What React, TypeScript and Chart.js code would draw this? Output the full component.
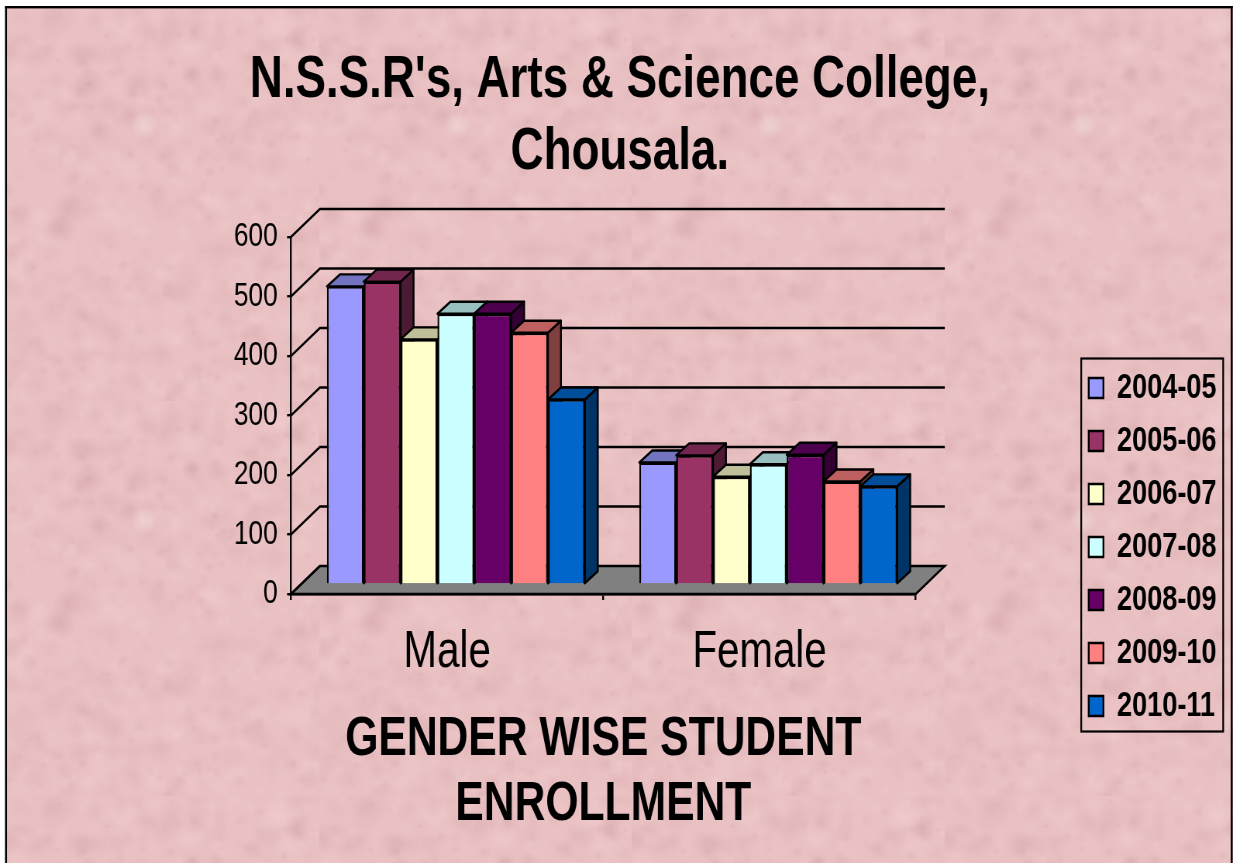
import { useEffect, useRef } from "react";
import { Chart, registerables } from "chart.js";

Chart.register(...registerables);

const categories = ["Male", "Female"];
const seriesLabels = ["2004-05", "2005-06", "2006-07", "2007-08", "2008-09", "2009-10", "2010-11"];
const v2004 = [501, 205];
const v2005 = [509, 217];
const v2006 = [412, 181];
const v2007 = [455, 202];
const v2008 = [455, 218];
const v2009 = [423, 173];
const v2010 = [311, 165];
const seriesValues = [v2004, v2005, v2006, v2007, v2008, v2009, v2010];
const seriesColors = ["#9999FF", "#993366", "#FFFFCC", "#CCFFFF", "#660066", "#FF8080", "#0066CC"];
const yTickStep = 100;
const yMax = 600;
const titleLines = ["N.S.S.R's, Arts & Science College,", "Chousala."];
const xTitleLines = ["GENDER WISE STUDENT", "ENROLLMENT"];

const PAGE_W = 1233;
const PAGE_H = 863;
const SX = 1.29;
const W = Math.round(PAGE_W * SX);
const FONT = "'Liberation Sans', Arial, sans-serif";
const LW = 2.4;

const shade = (hex: string, f: number) => {
  const n = parseInt(hex.slice(1), 16);
  const c = [(n >> 16) & 255, (n >> 8) & 255, n & 255].map((v) => Math.round(v * f));
  return `rgb(${c[0]},${c[1]},${c[2]})`;
};

function makeTile() {
  const tw = 313;
  const th = 395;
  const c = document.createElement("canvas");
  c.width = tw;
  c.height = th;
  const g = c.getContext("2d")!;
  g.fillStyle = "#EAC1C3";
  g.fillRect(0, 0, tw, th);
  let seed = 12345;
  const next = () => {
    seed = (seed * 1103515245 + 12345) & 0x7fffffff;
    return seed / 0x7fffffff;
  };
  const blob = (x: number, y: number, r: number, col: string) => {
    const gr = g.createRadialGradient(x, y, 0, x, y, r);
    gr.addColorStop(0, col);
    gr.addColorStop(1, col.replace(/[\d.]+\)$/, "0)"));
    g.fillStyle = gr;
    g.beginPath();
    g.arc(x, y, r, 0, Math.PI * 2);
    g.fill();
  };
  for (let i = 0; i < 1100; i++) {
    const x = next() * tw;
    const y = next() * th;
    const r = 3 + next() * 13;
    const a = 0.05 + next() * 0.13;
    blob(x, y, r, next() > 0.5 ? `rgba(196,145,150,${a})` : `rgba(247,216,218,${a})`);
  }
  blob(139, 119, 14, "rgba(240,222,218,0.5)");
  blob(84, 78, 16, "rgba(196,145,150,0.35)");
  return c;
}

const threeD = {
  id: "threeD",
  beforeDraw(chart: any) {
    const { ctx, chartArea: a, scales } = chart;
    const dx = 29 * SX;
    const dy = 28;
    // page and tiled wallpaper
    ctx.save();
    ctx.fillStyle = "#fff";
    ctx.fillRect(0, 0, W, PAGE_H);
    const tile = makeTile();
    for (let ty = 6; ty < PAGE_H; ty += 395) {
      for (let tx = 6; tx < PAGE_W; tx += 313) {
        ctx.drawImage(tile, tx * SX, ty, 313 * SX, 395);
      }
    }
    // frame
    ctx.fillStyle = "#000";
    ctx.fillRect(5 * SX, 6, 2 * SX, PAGE_H);
    ctx.fillRect(5 * SX, 6, (PAGE_W - 5) * SX, 2.4);
    ctx.fillRect(1231 * SX, 6, 2 * SX, PAGE_H);
    ctx.restore();

    // floor
    ctx.save();
    ctx.lineWidth = LW;
    ctx.strokeStyle = "#000";
    ctx.fillStyle = "#808080";
    ctx.beginPath();
    ctx.moveTo(a.left, a.bottom);
    ctx.lineTo(a.right, a.bottom);
    ctx.lineTo(a.right + dx, a.bottom - dy);
    ctx.lineTo(a.left + dx, a.bottom - dy);
    ctx.closePath();
    ctx.fill();
    ctx.stroke();
    // wall grid
    for (const t of scales.y.ticks) {
      const y = scales.y.getPixelForValue(t.value);
      ctx.beginPath();
      ctx.moveTo(a.left, y);
      ctx.lineTo(a.left + dx, y - dy);
      if (t.value !== 0) ctx.lineTo(a.right + dx, y - dy);
      ctx.stroke();
    }
    ctx.restore();
  },
  beforeDatasetsDraw(chart: any) {
    const { ctx } = chart;
    const ox = 8.7 * SX;
    const oy = 9.5;
    const dx = 13 * SX;
    const dy = 12;
    ctx.save();
    ctx.translate(ox, -oy);
    ctx.lineWidth = LW;
    ctx.strokeStyle = "#000";
    ctx.lineJoin = "round";
    categories.forEach((_, j) => {
      seriesValues.forEach((__, i) => {
        const el = chart.getDatasetMeta(i).data[j];
        const { x, y, base, width } = el.getProps(["x", "y", "base", "width"], true);
        const x0 = x - width / 2;
        const x1 = x + width / 2;
        const col = seriesColors[i];
        ctx.fillStyle = shade(col, 0.5);
        ctx.beginPath();
        ctx.moveTo(x1, y);
        ctx.lineTo(x1 + dx, y - dy);
        ctx.lineTo(x1 + dx, base - dy);
        ctx.lineTo(x1, base);
        ctx.closePath();
        ctx.fill();
        ctx.stroke();
        ctx.fillStyle = shade(col, 0.75);
        ctx.beginPath();
        ctx.moveTo(x0, y);
        ctx.lineTo(x1, y);
        ctx.lineTo(x1 + dx, y - dy);
        ctx.lineTo(x0 + dx, y - dy);
        ctx.closePath();
        ctx.fill();
        ctx.stroke();
      });
    });
    ctx.restore();
    ctx.save();
    ctx.translate(ox, -oy);
  },
  afterDatasetsDraw(chart: any) {
    chart.ctx.restore();
  },
  afterLayout(chart: any) {
    const t = chart.titleBlock;
    if (t) {
      t.left = 620 * SX - 900;
      t.right = 620 * SX + 900;
      t.top = 45;
      t.bottom = 189;
    }
    const l = chart.legend;
    if (l) {
      l.left = 1089 * SX - 18;
      l.right = W;
      l.top = 352.5;
      l.bottom = PAGE_H;
    }
  },
  afterDraw(chart: any) {
    const { ctx } = chart;
    ctx.save();
    ctx.strokeStyle = "#000";
    ctx.lineWidth = 2.2;
    ctx.strokeRect(1081.5 * SX, 358.5, 142 * SX, 373);
    ctx.restore();
  },
};

export default function App() {
  const ref = useRef<HTMLCanvasElement | null>(null);
  useEffect(() => {
    const legendFont = 35;
    const legendPad = 18;
    const boxW = 19;
    const m = document.createElement("canvas").getContext("2d")!;
    m.font = `bold ${legendFont}px ${FONT}`;
    const legendW = legendPad + boxW + legendFont / 2 + m.measureText(seriesLabels[0]).width + 10;
    const chart = new Chart(ref.current!, {
      type: "bar",
      data: {
        labels: categories,
        datasets: seriesLabels.map((label, i) => ({
          label,
          data: seriesValues[i],
          backgroundColor: seriesColors[i],
          borderColor: "#000",
          borderWidth: LW,
          categoryPercentage: 0.8256,
          barPercentage: 1,
          clip: false as any,
        })),
      },
      options: {
        responsive: false,
        animation: false,
        devicePixelRatio: 1,
        layout: {
          padding: { left: 0, top: 93, bottom: 0, right: W - legendW - 916 * SX },
        },
        plugins: {
          tooltip: { enabled: false },
          title: {
            display: true,
            text: titleLines,
            color: "#000",
            padding: 0,
            font: { family: FONT, size: 59, weight: "bold", lineHeight: 72 / 59 },
          },
          legend: {
            display: true,
            position: "right",
            align: "start",
            labels: {
              color: "#000",
              boxWidth: boxW,
              boxHeight: 20,
              padding: legendPad,
              font: { family: FONT, size: legendFont, weight: "bold" },
            },
          },
        },
        scales: {
          x: {
            afterFit: (s: any) => {
              s.height = PAGE_H - 594;
            },
            border: { color: "#000", width: LW },
            grid: { drawOnChartArea: false, color: "#000", tickColor: "#000", lineWidth: LW, tickLength: 6 },
            ticks: {
              color: "#000",
              padding: 21,
              maxRotation: 0,
              font: { family: FONT, size: 52 },
            },
            title: {
              display: true,
              text: xTitleLines,
              color: "#000",
              padding: { top: 0, bottom: 25.5 },
              font: { family: FONT, size: 55, weight: "bold", lineHeight: 65 / 55 },
            },
          },
          y: {
            min: 0,
            max: yMax,
            afterFit: (s: any) => {
              s.width = 291 * SX;
            },
            border: { color: "#000", width: LW },
            grid: { drawOnChartArea: false, color: "#000", tickColor: "#000", lineWidth: LW, tickLength: 5 },
            ticks: {
              stepSize: yTickStep,
              color: "#000",
              padding: 12,
              font: { family: FONT, size: 34 },
            },
          },
        },
      },
      plugins: [threeD],
    } as any);
    return () => chart.destroy();
  }, []);
  return (
    <div style={{ position: "absolute", left: 0, top: 0, width: PAGE_W, height: PAGE_H, overflow: "hidden" }}>
      <canvas ref={ref} width={W} height={PAGE_H} style={{ display: "block", width: PAGE_W, height: PAGE_H }} />
    </div>
  );
}
